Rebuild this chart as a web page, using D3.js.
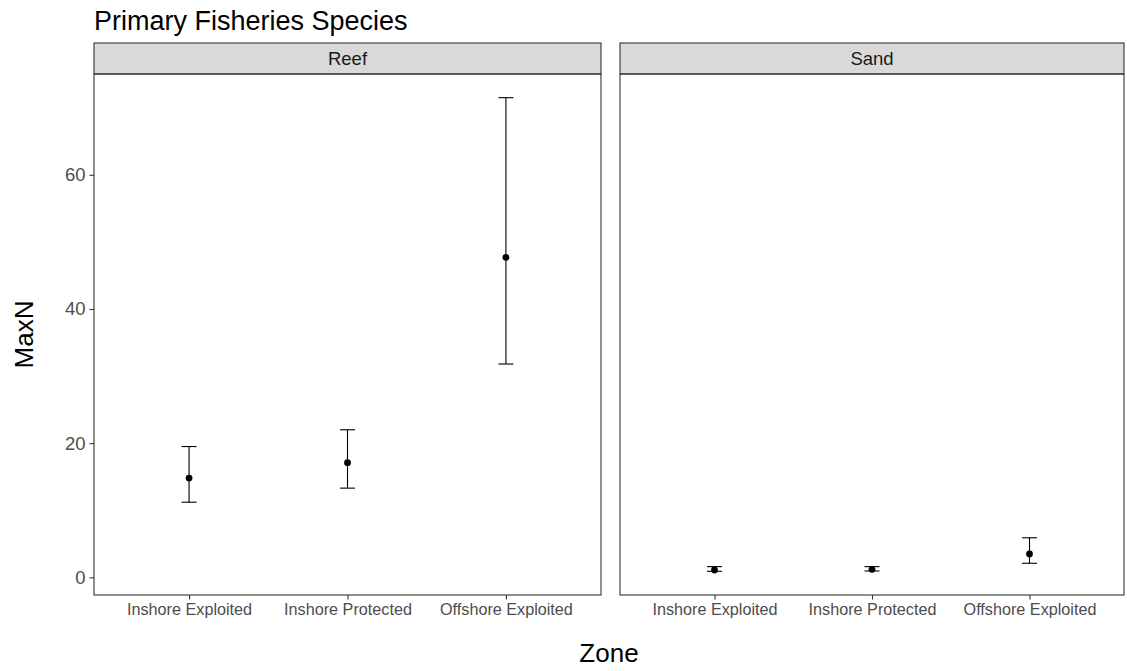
<!DOCTYPE html>
<html>
<head>
<meta charset="utf-8">
<script src="https://cdn.jsdelivr.net/npm/d3@7"></script>
<style>
  html, body { margin: 0; padding: 0; background: #ffffff; }
  svg { display: block; font-family: "Liberation Sans", Arial, sans-serif; }
</style>
</head>
<body>
<svg id="chart" width="1127" height="671"></svg>
<script>
// Zones on the x axis, one facet per habitat
const zones = ["Inshore Exploited", "Inshore Protected", "Offshore Exploited"];
const habitats = ["Reef", "Sand"];

// Mean MaxN with lower / upper error bounds, per zone
const reefMean  = [14.8, 17.1, 47.7];
const reefLower = [11.2, 13.3, 31.8];
const reefUpper = [19.5, 22.0, 71.5];

const sandMean  = [1.1, 1.2, 3.5];
const sandLower = [0.9, 0.95, 2.1];
const sandUpper = [1.6, 1.6, 5.9];

const yTicks = [0, 20, 40, 60];

const seriesByHabitat = {
  Reef: { mean: reefMean, lower: reefLower, upper: reefUpper },
  Sand: { mean: sandMean, lower: sandLower, upper: sandUpper }
};

const svg = d3.select("#chart");

const panelTop = 74, panelBottom = 595;
const stripTop = 43;
const panels = [
  { habitat: habitats[0], x0: 94, x1: 601 },
  { habitat: habitats[1], x0: 620, x1: 1124 }
];

// Shared y scale with 5% expansion around the data extent
const allVals = [].concat(reefLower, reefUpper, sandLower, sandUpper);
const yMin = d3.min(allVals), yMax = d3.max(allVals);
const pad = (yMax - yMin) * 0.05;
const y = d3.scaleLinear().domain([yMin - pad, yMax + pad]).range([panelBottom, panelTop]);

const ink = "#333333";
const tickText = "#4d4d4d";

panels.forEach((p, pi) => {
  const x = d3.scalePoint().domain(zones).range([p.x0, p.x1]).padding(0.6);
  const s = seriesByHabitat[p.habitat];
  const rows = zones.map((z, i) => ({ zone: z, mean: s.mean[i], lower: s.lower[i], upper: s.upper[i] }));

  // panel background
  svg.append("rect")
    .attr("x", p.x0).attr("y", panelTop)
    .attr("width", p.x1 - p.x0).attr("height", panelBottom - panelTop)
    .attr("fill", "#ffffff");

  // strip
  svg.append("rect")
    .attr("x", p.x0).attr("y", stripTop)
    .attr("width", p.x1 - p.x0).attr("height", panelTop - stripTop)
    .attr("fill", "#d9d9d9").attr("stroke", ink).attr("stroke-width", 1.1);
  svg.append("text")
    .attr("x", (p.x0 + p.x1) / 2).attr("y", (stripTop + panelTop) / 2 + 6.5)
    .attr("text-anchor", "middle")
    .attr("font-size", 18.5).attr("fill", "#1a1a1a")
    .text(p.habitat);

  // x axis
  const xAxis = svg.append("g")
    .attr("transform", `translate(0,${panelBottom})`)
    .call(d3.axisBottom(x).tickSize(4.5).tickPadding(4));
  xAxis.select(".domain").remove();
  xAxis.selectAll(".tick line").attr("stroke", ink).attr("stroke-width", 1.1);
  xAxis.selectAll(".tick text")
    .attr("font-size", 16.2).attr("fill", tickText)
    .attr("font-family", "'Liberation Sans', Arial, sans-serif");

  // y axis on first panel only
  if (pi === 0) {
    const yAxis = svg.append("g")
      .attr("transform", `translate(${p.x0},0)`)
      .call(d3.axisLeft(y).tickValues(yTicks).tickSize(4.5).tickPadding(4));
    yAxis.select(".domain").remove();
    yAxis.selectAll(".tick line").attr("stroke", ink).attr("stroke-width", 1.1);
    yAxis.selectAll(".tick text")
      .attr("font-size", 18.5).attr("fill", tickText)
      .attr("font-family", "'Liberation Sans', Arial, sans-serif");
  }

  const g = svg.append("g");
  const capHalf = 7.5;

  // error bars
  g.selectAll(".bar").data(rows).join("line")
    .attr("x1", d => x(d.zone)).attr("x2", d => x(d.zone))
    .attr("y1", d => y(d.lower)).attr("y2", d => y(d.upper))
    .attr("stroke", "#000").attr("stroke-width", 1.1);
  g.selectAll(".capU").data(rows).join("line")
    .attr("x1", d => x(d.zone) - capHalf).attr("x2", d => x(d.zone) + capHalf)
    .attr("y1", d => y(d.upper)).attr("y2", d => y(d.upper))
    .attr("stroke", "#000").attr("stroke-width", 1.1);
  g.selectAll(".capL").data(rows).join("line")
    .attr("x1", d => x(d.zone) - capHalf).attr("x2", d => x(d.zone) + capHalf)
    .attr("y1", d => y(d.lower)).attr("y2", d => y(d.lower))
    .attr("stroke", "#000").attr("stroke-width", 1.1);

  // mean points
  g.selectAll("circle").data(rows).join("circle")
    .attr("cx", d => x(d.zone)).attr("cy", d => y(d.mean))
    .attr("r", 3.4).attr("fill", "#000");

  // panel border
  svg.append("rect")
    .attr("x", p.x0).attr("y", panelTop)
    .attr("width", p.x1 - p.x0).attr("height", panelBottom - panelTop)
    .attr("fill", "none").attr("stroke", ink).attr("stroke-width", 1.1);
});

// title
svg.append("text")
  .attr("x", 94).attr("y", 30)
  .attr("font-size", 27).attr("fill", "#000")
  .text("Primary Fisheries Species");

// axis titles
svg.append("text")
  .attr("x", (94 + 1124) / 2).attr("y", 662)
  .attr("text-anchor", "middle")
  .attr("font-size", 26).attr("fill", "#000")
  .text("Zone");

svg.append("text")
  .attr("transform", `translate(33,${(panelTop + panelBottom) / 2}) rotate(-90)`)
  .attr("text-anchor", "middle")
  .attr("font-size", 26).attr("fill", "#000")
  .text("MaxN");
</script>
</body>
</html>
